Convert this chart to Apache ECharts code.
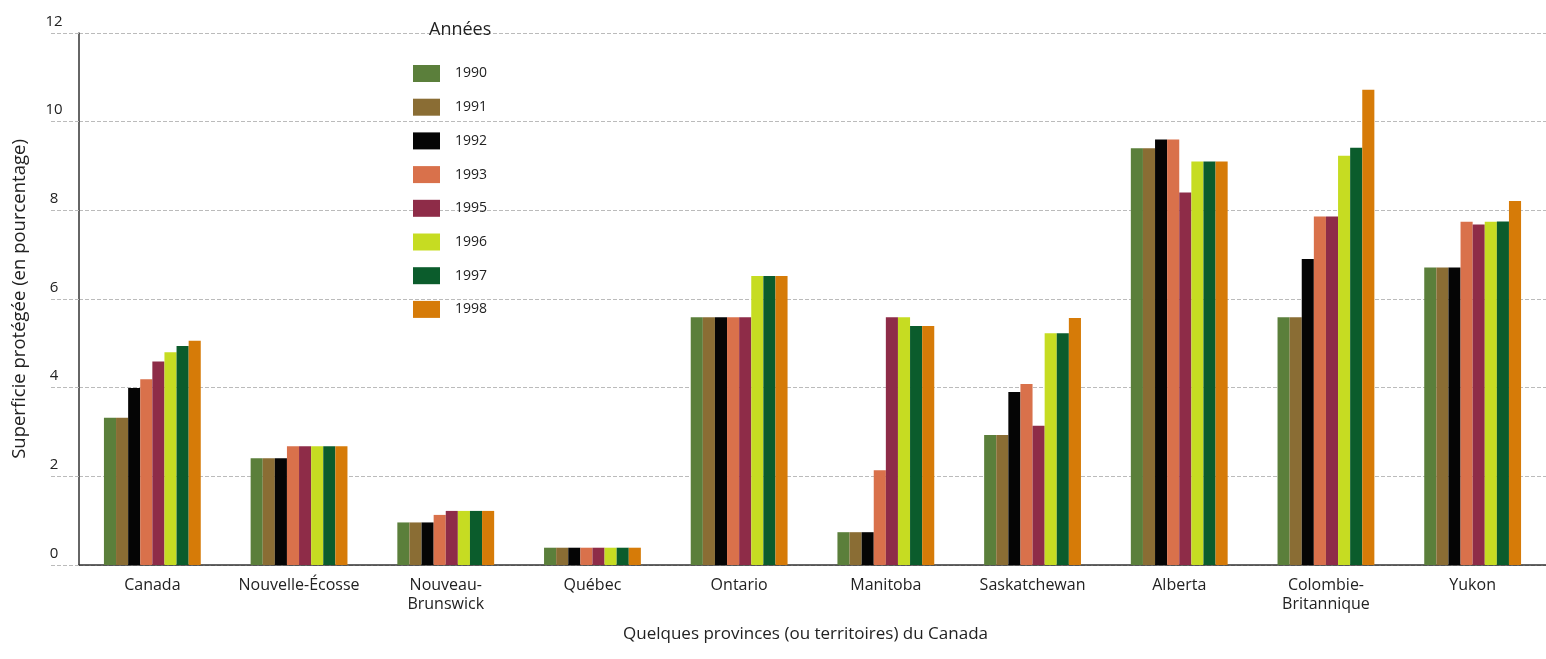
<!DOCTYPE html>
<html>
<head>
<meta charset="utf-8">
<script src="https://cdn.jsdelivr.net/npm/echarts@6/dist/echarts.min.js"></script>
<style>html,body{margin:0;padding:0;background:#fff;overflow:hidden}#c{width:1546px;height:659px}</style>
</head>
<body>
<div id="c"></div>
<script>
const categories = ['Canada','Nouvelle-Écosse','Nouveau-\nBrunswick','Québec','Ontario','Manitoba','Saskatchewan','Alberta','Colombie-\nBritannique','Yukon'];
const years = ['1990','1991','1992','1993','1995','1996','1997','1998'];
const v1990 = [3.32, 2.41, 0.96, 0.39, 5.59, 0.74, 2.93, 9.40, 5.59, 6.71];
const v1991 = [3.32, 2.41, 0.96, 0.39, 5.59, 0.74, 2.93, 9.40, 5.59, 6.71];
const v1992 = [3.99, 2.41, 0.96, 0.39, 5.59, 0.74, 3.90, 9.60, 6.90, 6.71];
const v1993 = [4.19, 2.68, 1.13, 0.39, 5.59, 2.14, 4.08, 9.60, 7.86, 7.74];
const v1995 = [4.59, 2.68, 1.22, 0.39, 5.59, 5.59, 3.14, 8.40, 7.86, 7.68];
const v1996 = [4.80, 2.68, 1.22, 0.39, 6.52, 5.59, 5.23, 9.10, 9.23, 7.74];
const v1997 = [4.94, 2.68, 1.22, 0.39, 6.52, 5.39, 5.23, 9.10, 9.41, 7.75];
const v1998 = [5.06, 2.68, 1.22, 0.39, 6.52, 5.39, 5.57, 9.10, 10.72, 8.21];
const yTicks = [0, 2, 4, 6, 8, 10, 12];
const colors = ['#5b7f3b','#8a6d34','#050505','#d9714b','#8e2c48','#c6dc22','#0b5c2c','#d67b08'];
const values = [v1990, v1991, v1992, v1993, v1995, v1996, v1997, v1998];

const font = "'Open Sans', 'Noto Sans', sans-serif";
const chart = echarts.init(document.getElementById('c'), null, {renderer: 'canvas'});
chart.setOption({
  animation: false,
  textStyle: {fontFamily: font},
  color: colors,
  title: {
    text: 'Années', left: 424, top: 16,
    textStyle: {fontFamily: font, fontSize: 18, fontWeight: 'normal', color: '#222'}
  },
  legend: {
    orient: 'vertical', left: 408, top: 60,
    itemWidth: 27, itemHeight: 17, itemGap: 16.7,
    icon: 'rect',
    textStyle: {fontFamily: font, fontSize: 14, color: '#222', padding: [0, 0, 0, 10]},
    data: years
  },
  grid: {left: 79, width: 1474, top: 33, bottom: 94, containLabel: false},
  xAxis: {
    type: 'category', data: categories,
    name: 'Quelques provinces (ou territoires) du Canada',
    nameLocation: 'middle', nameGap: 61,
    nameTextStyle: {fontFamily: font, fontSize: 17, color: '#222', padding: [0, 14, 0, 0]},
    axisLine: {lineStyle: {color: '#333', width: 1.5}},
    axisTick: {show: false},
    axisLabel: {fontFamily: font, fontSize: 16, color: '#222', margin: 11, lineHeight: 19, interval: 0}
  },
  yAxis: {
    type: 'value', min: 0, max: 12, interval: 2,
    name: 'Superficie protégée (en pourcentage)',
    nameLocation: 'middle', nameGap: 50, nameRotate: 90,
    nameTextStyle: {fontFamily: font, fontSize: 18.5, color: '#222'},
    axisLine: {show: true, lineStyle: {color: '#333', width: 1.5}},
    axisTick: {show: true, length: 30, lineStyle: {color: '#bbb', type: 'dashed', width: 1}},
    splitLine: {show: true, lineStyle: {color: '#bbb', type: 'dashed', width: 1}},
    axisLabel: {
      fontFamily: font, fontSize: 15, color: '#222', margin: 25, align: 'center',
      verticalAlign: 'bottom', padding: [0, 0, 4, 0],
      formatter: function (v) { return yTicks.indexOf(v) >= 0 ? String(v) : ''; }
    }
  },
  series: years.map(function (y, i) {
    return {
      name: y, type: 'bar', data: values[i],
      barGap: '0%', barCategoryGap: '34%',
      itemStyle: {color: colors[i]}
    };
  })
});
</script>
</body>
</html>
